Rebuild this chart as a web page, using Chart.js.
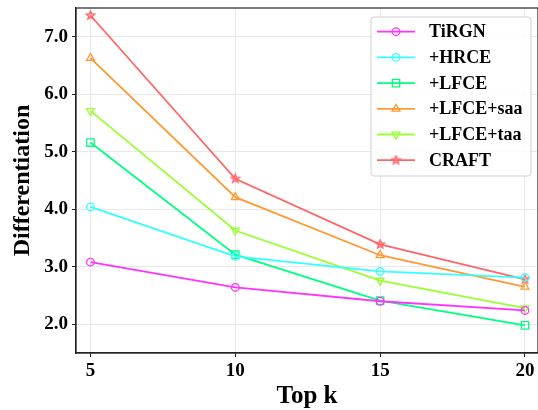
<!DOCTYPE html>
<html>
<head>
<meta charset="utf-8">
<script src="https://cdn.jsdelivr.net/npm/chart.js@4.4.1/dist/chart.umd.min.js"></script>
<style>
  html, body { margin: 0; padding: 0; background: #fff; }
  #wrap { width: 538px; height: 410px; position: relative; }
</style>
</head>
<body>
<div id="wrap"><canvas id="c" width="538" height="410"></canvas></div>
<script>
// ---- data ----
const topK = [5, 10, 15, 20];
const seriesNames = ['TiRGN', '+HRCE', '+LFCE', '+LFCE+saa', '+LFCE+taa', 'CRAFT'];
const tirgn   = [3.08, 2.64, 2.40, 2.24];
const hrce    = [4.04, 3.18, 2.92, 2.81];
const lfce    = [5.16, 3.21, 2.41, 1.98];
const lfceSaa = [6.63, 4.21, 3.20, 2.65];
const lfceTaa = [5.71, 3.63, 2.76, 2.28];
const craft   = [7.37, 4.53, 3.39, 2.78];
const yTicks  = [2, 3, 4, 5, 6, 7];

const colors = ['#ff33ff', '#33ffff', '#00ff80', '#ff9933', '#99ff33', '#ff6666'];

function starImage(color, size) {
  const c = document.createElement('canvas');
  c.width = size; c.height = size;
  const g = c.getContext('2d');
  const cx = size / 2, cy = size / 2, R = size / 2 - 1, r = R * 0.45;
  g.beginPath();
  for (let i = 0; i < 10; i++) {
    const a = -Math.PI / 2 + i * Math.PI / 5;
    const rr = i % 2 === 0 ? R : r;
    const x = cx + rr * Math.cos(a), y = cy + rr * Math.sin(a);
    if (i === 0) g.moveTo(x, y); else g.lineTo(x, y);
  }
  g.closePath();
  g.fillStyle = 'rgba(255,102,102,0.45)';
  g.fill();
  g.strokeStyle = color; g.lineWidth = 1.3; g.stroke();
  return c;
}
const star = starImage(colors[5], 11);

const seriesData = [tirgn, hrce, lfce, lfceSaa, lfceTaa, craft];
const styles = [
  { ps: 'circle', r: 3.8, rot: 0 },
  { ps: 'circle', r: 3.8, rot: 0 },
  { ps: 'rect', r: 5.2, rot: 0 },
  { ps: 'triangle', r: 4.6, rot: 0 },
  { ps: 'triangle', r: 4.6, rot: 180 },
  { ps: star, r: 5, rot: 0 }
];

const datasets = seriesNames.map((name, i) => ({
  label: name,
  data: topK.map((k, j) => ({ x: k, y: seriesData[i][j] })),
  borderColor: colors[i],
  backgroundColor: colors[i],
  borderWidth: 1.8,
  pointStyle: styles[i].ps,
  pointRadius: styles[i].r,
  pointRotation: styles[i].rot,
  pointBorderColor: colors[i],
  pointBackgroundColor: 'rgba(0,0,0,0)',
  pointBorderWidth: 1.3,
  tension: 0,
  clip: false
}));

const FONT = '"Liberation Serif", "Times New Roman", serif';

const frame = {
  id: 'frame',
  afterDatasetsDraw(chart) {
    const a = chart.chartArea, ctx = chart.ctx;
    ctx.save();
    ctx.strokeStyle = '#222';
    ctx.lineWidth = 1.2;
    ctx.strokeRect(a.left, a.top, a.right - a.left, a.bottom - a.top);
    ctx.restore();
  }
};

const legendIn = {
  id: 'legendIn',
  afterDraw(chart) {
    const ctx = chart.ctx;
    const x0 = 371, y0 = 17, w = 160, h = 159;
    ctx.save();
    ctx.beginPath();
    if (ctx.roundRect) ctx.roundRect(x0, y0, w, h, 3); else ctx.rect(x0, y0, w, h);
    ctx.fillStyle = 'rgba(255,255,255,0.85)';
    ctx.fill();
    ctx.strokeStyle = '#d0d0d0';
    ctx.lineWidth = 1;
    ctx.stroke();
    chart.data.datasets.forEach((ds, i) => {
      const y = 31.7 + i * 25.7;
      ctx.strokeStyle = ds.borderColor;
      ctx.lineWidth = 1.8;
      ctx.beginPath(); ctx.moveTo(377, y); ctx.lineTo(415, y); ctx.stroke();
      if (Chart.helpers && Chart.helpers.drawPoint) {
        ctx.fillStyle = 'rgba(0,0,0,0)';
        ctx.strokeStyle = ds.pointBorderColor;
        ctx.lineWidth = 1.3;
        Chart.helpers.drawPoint(ctx, {
          pointStyle: ds.pointStyle, radius: ds.pointRadius, rotation: ds.pointRotation, borderWidth: 1.3
        }, 396, y);
      }
      ctx.fillStyle = '#000';
      ctx.font = 'bold 18px ' + FONT;
      ctx.textBaseline = 'middle';
      ctx.textAlign = 'left';
      ctx.fillText(ds.label, 429, y + 1);
    });
    ctx.restore();
  }
};

new Chart(document.getElementById('c'), {
  type: 'line',
  data: { datasets },
  options: {
    responsive: false,
    animation: false,
    layout: { autoPadding: false, padding: { top: 8, right: 0, left: 0, bottom: 0 } },
    plugins: { legend: { display: false }, tooltip: { enabled: false } },
    scales: {
      x: {
        type: 'linear',
        min: 4.5, max: 20.45,
        afterBuildTicks(s) { s.ticks = topK.map(v => ({ value: v })); },
        afterFit(s) { s.height = 57; s.paddingLeft = 0; s.paddingRight = 0; },
        grid: { color: '#e8e8e8', lineWidth: 1, tickColor: '#222', tickLength: 4, drawTicks: true },
        border: { display: true, color: '#222', width: 1.2 },
        ticks: { color: '#000', font: { family: FONT, size: 19, weight: 'bold' }, padding: 3, maxRotation: 0 },
        title: { display: true, text: 'Top k', color: '#000', font: { family: FONT, size: 25, weight: 'bold' }, padding: { top: 0, bottom: -2 } }
      },
      y: {
        type: 'linear',
        min: 1.5, max: 7.5,
        afterBuildTicks(s) { s.ticks = yTicks.map(v => ({ value: v })); },
        afterFit(s) { s.width = 76; s.paddingTop = 0; s.paddingBottom = 0; },
        grid: { color: '#e8e8e8', lineWidth: 1, tickColor: '#222', tickLength: 4, drawTicks: true },
        border: { display: true, color: '#222', width: 1.2 },
        ticks: { color: '#000', font: { family: FONT, size: 19, weight: 'bold' }, padding: 4,
          callback: v => Number(v).toFixed(1) },
        title: { display: true, text: 'Differentiation', color: '#000', font: { family: FONT, size: 24, weight: 'bold' }, padding: { top: 8, bottom: 0 } }
      }
    }
  },
  plugins: [frame, legendIn]
});
</script>
</body>
</html>
